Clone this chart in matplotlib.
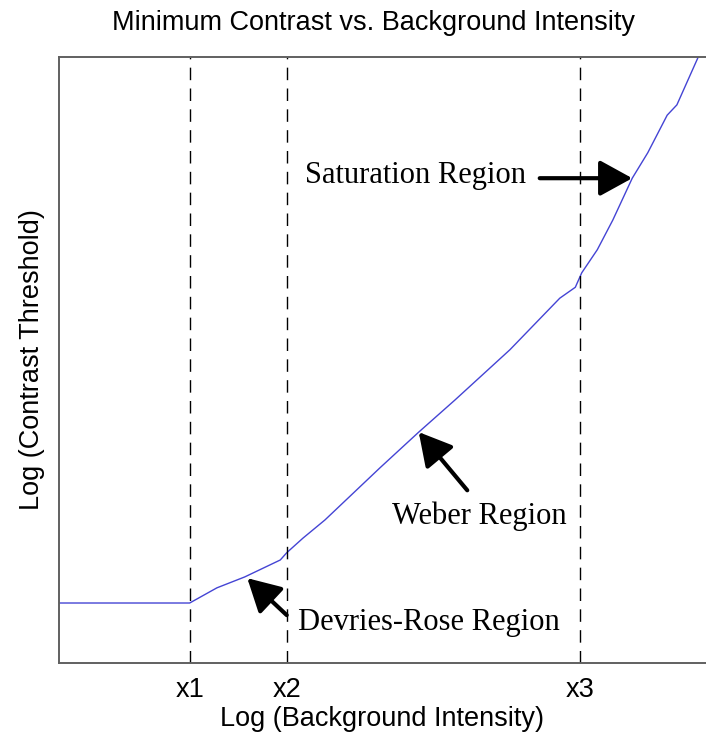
import matplotlib
matplotlib.use("Agg")
import matplotlib.pyplot as plt

# Data (arbitrary log units)
curve_x = [0.0, 2.02, 2.44, 2.87, 3.42, 3.52, 3.77, 4.11, 4.96, 5.56, 6.12, 6.97,
           7.74, 7.98, 8.08, 8.32, 8.56, 8.86, 9.10, 9.40, 9.55, 9.88, 10.2]
curve_y = [0.99, 0.99, 1.24, 1.42, 1.70, 1.82, 2.06, 2.36, 3.22, 3.81, 4.34, 5.17,
           6.02, 6.20, 6.44, 6.82, 7.31, 8.00, 8.42, 9.04, 9.21, 10.0, 10.6]
vlines_x = [2.02, 3.52, 8.05]
tick_labels = ["x1", "x2", "x3"]

annotations = [
    # text, text position, arrow tail, arrow tip
    ("Saturation Region", (3.80, 8.05), (7.43, 8.0), (8.86, 8.0)),
    ("Weber Region", (5.15, 2.42), (6.31, 2.85), (5.56, 3.81)),
    ("Devries-Rose Region", (3.70, 0.67), (3.52, 0.79), (2.91, 1.40)),
]

W, H = 706, 738
fig = plt.figure(figsize=(W / 100, H / 100), dpi=100)
left, right, top, bottom = 59, 706, 57, 663
ax = fig.add_axes([left / W, 1 - bottom / H, (right - left) / W, (bottom - top) / H])

ax.plot(curve_x, curve_y, color="#4444d4", lw=1.0)
for xv in vlines_x:
    ax.axvline(xv, color="black", lw=1.0, dashes=(9, 6))

ax.set_xlim(0, 10)
ax.set_ylim(0, 10)
ax.set_xticks(vlines_x)
ax.set_xticklabels(tick_labels, fontsize=19.5, family="Liberation Sans")
ax.set_yticks([])
ax.tick_params(axis="x", length=0, pad=10)
for s in ["left", "bottom", "top"]:
    ax.spines[s].set_color("#606060")
    ax.spines[s].set_linewidth(1.4)
ax.spines["right"].set_visible(False)

ax.set_xlabel("Log (Background Intensity)", fontsize=19.5, family="Liberation Sans", labelpad=2)
ax.set_ylabel("Log (Contrast Threshold)", fontsize=19.5, family="Liberation Sans", labelpad=10)
fig.text(374 / W, 1 - 23 / H, "Minimum Contrast vs. Background Intensity",
         ha="center", va="center", fontsize=19.5, family="Liberation Sans")

for text, tpos, tail, tip in annotations:
    ax.text(tpos[0], tpos[1], text, fontsize=22, family="Liberation Serif",
            ha="left", va="center")
    ax.annotate("", xy=tip, xytext=tail,
                arrowprops=dict(arrowstyle="-|>,head_length=1.0,head_width=0.55",
                                mutation_scale=20, lw=3.0, color="black",
                                shrinkA=0, shrinkB=0))

fig.savefig("out.png", dpi=100)
